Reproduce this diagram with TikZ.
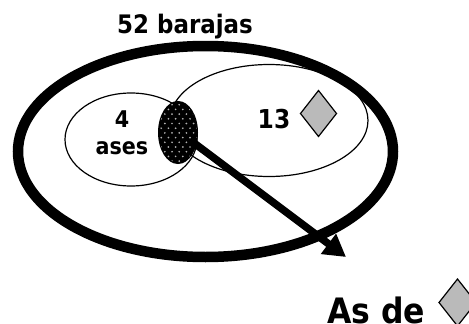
\documentclass[tikz,border=0pt]{standalone}
\usepackage{fontspec}
\setmainfont{DejaVu Sans}[FakeStretch=0.9]
\usetikzlibrary{shapes.geometric,arrows.meta}
\tikzset{
  setring/.style={ellipse,draw=black,line width=1.2pt,inner sep=0pt,outer sep=0pt},
  suit/.style={diamond,draw=black,fill=black!27,line width=1.2pt,inner sep=0pt,outer sep=0pt,minimum width=36pt,minimum height=46pt,aspect=0.78},
  label/.style={font=\bfseries\fontsize{25.5}{28}\selectfont,text=black,inner sep=0pt,align=center,anchor=base},
  bigarrow/.style={line width=7.5pt,-{Triangle[length=22pt,width=24pt]}}
}
\begin{document}
\begin{tikzpicture}[x=1pt,y=-1pt]
\useasboundingbox (0,0) rectangle (469,324);
\clip (0,0) rectangle (469,324);
\node[setring,minimum width=198pt,minimum height=112pt] (corazon) at (269,120.5) {};
\node[setring,minimum width=132pt,minimum height=93pt] (ases) at (131,139.5) {};
\node[setring,line width=10.5pt,minimum width=375pt,minimum height=211pt] (todas) at (205.5,151.5) {};
\node[ellipse,fill=black,inner sep=0pt,minimum width=40pt,minimum height=63pt] (inter) at (178,132.5) {};
\begin{scope}
\clip (178,132.5) ellipse [x radius=19,y radius=30];
\foreach \r in {0,...,14}{
  \foreach \c in {0,...,7}{
    \pgfmathsetmacro{\px}{154+\c*7.2+mod(\r,2)*3.6}
    \pgfmathsetmacro{\py}{100+\r*4.7}
    \fill[black!30] (\px,\py) circle [radius=0.95];
  }
}
\end{scope}
\coordinate (inicio) at (190,140);
\coordinate (punta) at (346,257);
\draw[bigarrow] (inicio) -- (punta);
\node[label] (t52) at (185,34) {52 barajas};
\node[label,font=\bfseries\fontsize{23}{26}\selectfont] (t4) at (122,127) {4};
\node[label,font=\bfseries\fontsize{23}{26}\selectfont] (tases) at (122,154) {ases};
\node[label,font=\bfseries\fontsize{26}{28}\selectfont] (t13) at (274,128) {13};
\node[suit] (d1) at (318.5,113.5) {};
\node[label,font=\bfseries\fontsize{35}{38}\selectfont,anchor=base west] (tas) at (327,323) {As de};
\node[suit,minimum width=37pt,minimum height=47pt] (d2) at (457.5,302.5) {};
\end{tikzpicture}
\end{document}
